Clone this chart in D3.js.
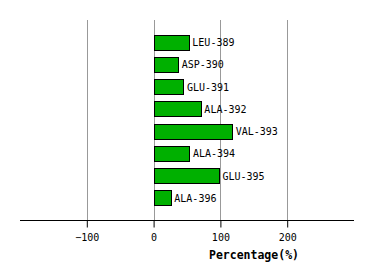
<!DOCTYPE html>
<html>
<head>
<meta charset="utf-8">
<script src="https://cdn.jsdelivr.net/npm/d3@7"></script>
<style>
  body { margin: 0; background: #fff; }
  text { font-family: "DejaVu Sans Mono", monospace; }
</style>
</head>
<body>
<div id="chart"></div>
<script>
// residues and their percentages
const residues = ["LEU-389", "ASP-390", "GLU-391", "ALA-392", "VAL-393", "ALA-394", "GLU-395", "ALA-396"];
const percents = [52, 36, 44, 70, 117, 53, 97, 25];
const tickValues = [-100, 0, 100, 200];

const W = 374, H = 280;
const svg = d3.select("#chart").append("svg")
    .attr("width", W)
    .attr("height", H);

const x = d3.scaleLinear().domain([-200, 300]).range([20, 354]);
const y = d3.scalePoint().domain(residues).range([20, 220]).padding(1);
const barH = 15;

// gridlines
svg.selectAll(".grid")
    .data(tickValues)
    .join("line")
    .attr("x1", d => Math.round(x(d)) + 0.5)
    .attr("x2", d => Math.round(x(d)) + 0.5)
    .attr("y1", 20)
    .attr("y2", 220)
    .attr("stroke", "#999")
    .attr("stroke-width", 1);

// bars
const data = residues.map((r, i) => ({ r, v: percents[i] }));
svg.selectAll(".bar")
    .data(data)
    .join("rect")
    .attr("x", Math.round(x(0)) + 0.5)
    .attr("y", d => Math.round(y(d.r) - barH / 2) + 0.5)
    .attr("width", d => Math.round(x(d.v) - x(0)))
    .attr("height", barH)
    .attr("fill", "#00b000")
    .attr("stroke", "#000")
    .attr("stroke-width", 1);

// labels
svg.selectAll(".lbl")
    .data(data)
    .join("text")
    .attr("x", d => x(d.v) + 4)
    .attr("y", d => y(d.r) + 4)
    .attr("font-size", 10)
    .attr("fill", "#000")
    .text(d => d.r);

// x axis
const axis = svg.append("g")
    .attr("transform", "translate(0,220.5)")
    .call(d3.axisBottom(x).tickValues(tickValues).tickSize(7).tickPadding(6));
axis.select(".domain").attr("d", "M20,0H354").attr("stroke", "#000");
axis.selectAll(".tick line").attr("stroke", "#000");
axis.selectAll(".tick text")
    .attr("font-family", "DejaVu Sans Mono, monospace")
    .attr("font-size", 10)
    .attr("fill", "#000");

svg.append("text")
    .attr("x", 299)
    .attr("y", 259)
    .attr("text-anchor", "end")
    .attr("font-size", 11.5)
    .attr("font-weight", "bold")
    .text("Percentage(%)");
</script>
</body>
</html>
